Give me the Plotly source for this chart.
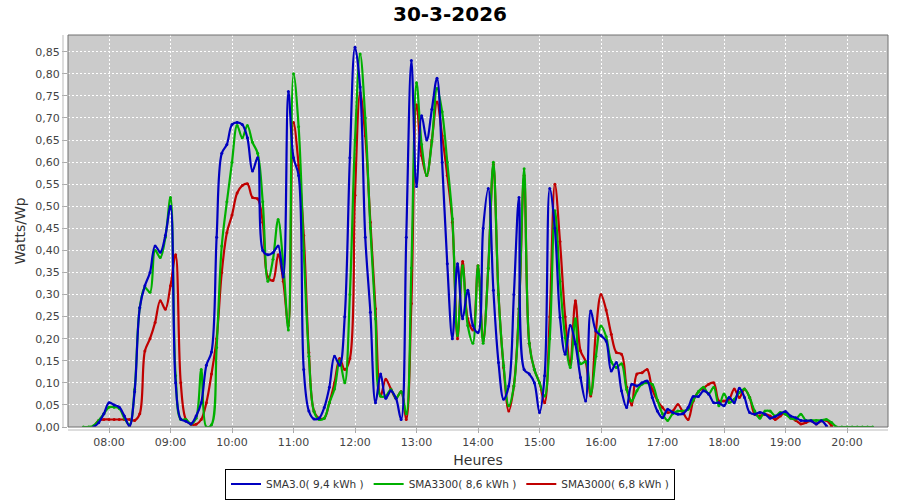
import pandas as pd
import plotly.graph_objects as go

# ---- data (5-minute samples, 07:35 -> 20:25) ----
start_time = "2026-03-30 07:35"
end_time = "2026-03-30 20:25"
times = pd.date_range(start_time, end_time, freq="5min")

series_names = ["SMA3.0( 9,4 kWh )", "SMA3300( 8,6 kWh )", "SMA3000( 6,8 kWh )"]

sma30 = [
    None, None, 0.0, 0.01, 0.03,
    0.055, 0.05, 0.045, 0.025, 0.002, 0.08, 0.27, 0.32, 0.35, 0.41, 0.396, 0.434,
    0.50, 0.10, 0.018, 0.013, 0.007, 0.025, 0.055, 0.14, 0.17, 0.43, 0.62, 0.64,
    0.685, 0.69, 0.685, 0.655, 0.58, 0.61, 0.40, 0.39, 0.395, 0.41, 0.34, 0.76,
    0.61, 0.57, 0.13, 0.036, 0.018, 0.02, 0.044, 0.09, 0.16, 0.14, 0.25, 0.61,
    0.86, 0.77, 0.43, 0.26, 0.055, 0.12, 0.065, 0.082, 0.065, 0.017, 0.43, 0.83,
    0.545, 0.705, 0.65, 0.72, 0.79, 0.60, 0.37, 0.20, 0.37, 0.245, 0.31, 0.23,
    0.214, 0.45, 0.54, 0.31, 0.146, 0.063, 0.093, 0.30, 0.52, 0.13, 0.12, 0.10,
    0.033, 0.116, 0.54, 0.45, 0.248, 0.165, 0.23, 0.188, 0.112, 0.059, 0.263, 0.218,
    0.207, 0.195, 0.127, 0.146, 0.082, 0.044, 0.097, 0.093, 0.10, 0.104, 0.067, 0.036,
    0.021, 0.04, 0.033, 0.029, 0.03, 0.044, 0.069, 0.069, 0.082, 0.075, 0.055, 0.055,
    0.048, 0.067, 0.055, 0.088, 0.067, 0.033, 0.029, 0.033, 0.029, 0.02, 0.024, 0.03,
    0.035, 0.025, 0.021, 0.015, 0.014, 0.014, 0.007, 0.014, 0.002, None, None, None,
    None, None, None, None, None, None,
]

sma3300 = [
    0.0, 0.0, 0.003, 0.015, 0.03,
    0.045, 0.045, 0.042, 0.02, 0.005, 0.085, 0.27, 0.316, 0.305, 0.40, 0.384, 0.43,
    0.52, 0.116, 0.017, 0.017, 0.007, 0.02, 0.13, 0.0, 0.005, 0.18, 0.41, 0.51,
    0.60, 0.683, 0.655, 0.683, 0.645, 0.62, 0.51, 0.33, 0.38, 0.47, 0.37, 0.22,
    0.80, 0.68, 0.40, 0.16, 0.035, 0.017, 0.02, 0.055, 0.086, 0.15, 0.10, 0.30,
    0.65, 0.845, 0.70, 0.45, 0.245, 0.07, 0.07, 0.085, 0.065, 0.08, 0.03, 0.36,
    0.78, 0.64, 0.57, 0.646, 0.767, 0.714, 0.60, 0.472, 0.207, 0.365, 0.23, 0.19,
    0.365, 0.19, 0.36, 0.60, 0.30, 0.139, 0.048, 0.093, 0.268, 0.585, 0.19, 0.13,
    0.10, 0.07, 0.20, 0.49, 0.33, 0.203, 0.135, 0.245, 0.143, 0.148, 0.075, 0.16,
    0.229, 0.205, 0.148, 0.135, 0.143, 0.085, 0.059, 0.082, 0.097, 0.10, 0.097, 0.061,
    0.03, 0.015, 0.03, 0.036, 0.036, 0.04, 0.061, 0.08, 0.09, 0.075, 0.09, 0.048,
    0.075, 0.055, 0.063, 0.078, 0.086, 0.067, 0.036, 0.02, 0.036, 0.036, 0.025, 0.033,
    0.029, 0.02, 0.018, 0.029, 0.015, 0.015, 0.015, 0.015, 0.017, 0.01, 0.0, 0.0,
    0.0, 0.0, 0.0, 0.0, 0.0, 0.0,
]

sma3000 = [
    None, None, 0.0, 0.015, 0.017,
    0.017, 0.017, 0.017, 0.017, 0.017, 0.015, 0.03, 0.172, 0.20, 0.237, 0.286, 0.267,
    0.32, 0.39, 0.10, 0.017, 0.006, 0.006, 0.017, 0.055, 0.12, 0.20, 0.35, 0.44,
    0.48, 0.53, 0.547, 0.551, 0.52, 0.517, 0.464, 0.34, 0.332, 0.39, 0.33, 0.23,
    0.69, 0.593, 0.434, 0.169, 0.036, 0.02, 0.02, 0.055, 0.10, 0.155, 0.13, 0.155,
    0.525, 0.757, 0.66, 0.464, 0.268, 0.07, 0.108, 0.086, 0.065, 0.08, 0.017, 0.28,
    0.73, 0.615, 0.57, 0.65, 0.736, 0.66, 0.57, 0.464, 0.20, 0.375, 0.245, 0.22,
    0.365, 0.195, 0.359, 0.595, 0.30, 0.135, 0.036, 0.093, 0.268, 0.57, 0.19, 0.13,
    0.10, 0.055, 0.25, 0.55, 0.42, 0.25, 0.142, 0.286, 0.173, 0.148, 0.07, 0.216,
    0.30, 0.265, 0.21, 0.169, 0.165, 0.09, 0.05, 0.12, 0.123, 0.13, 0.085, 0.06,
    0.044, 0.033, 0.036, 0.051, 0.033, 0.017, 0.059, 0.08, 0.088, 0.097, 0.10, 0.059,
    0.059, 0.063, 0.086, 0.067, 0.086, 0.067, 0.029, 0.025, 0.029, 0.025, 0.017, 0.025,
    0.033, 0.021, 0.015, 0.007, 0.01, 0.014, 0.007, 0.014, 0.015, 0.002, None, None,
    None, None, None, None, None, None,
]

colors = ["#0000c0", "#00b000", "#c00000"]
FONT = "DejaVu Sans"

fig = go.Figure()
# draw order: red, green, blue (blue on top); markers drawn as separate legend-less traces
for name, vals, col in [
    (series_names[2], sma3000, colors[2]),
    (series_names[1], sma3300, colors[1]),
    (series_names[0], sma30, colors[0]),
]:
    fig.add_trace(go.Scatter(
        x=times, y=vals, name=name, mode="lines", legendgroup=name,
        line=dict(color=col, width=2.2, shape="spline", smoothing=1.0),
    ))
    fig.add_trace(go.Scatter(
        x=times, y=vals, name=name, mode="markers", legendgroup=name, showlegend=False,
        marker=dict(size=3, color=col),
    ))

fig.update_layout(
    width=900, height=500,
    margin=dict(l=68, r=12, t=35, b=73, autoexpand=False),
    paper_bgcolor="white",
    plot_bgcolor="#cbcbcb",
    separators=", ",
    font=dict(family=FONT, size=11, color="#444444"),
    title=dict(text="<b>30-3-2026</b>", x=0.5, xref="container", xanchor="center",
               y=1 - 14 / 500, yref="container", yanchor="middle",
               font=dict(family=FONT, size=20, color="black")),
    showlegend=True,
    legend=dict(orientation="h", traceorder="reversed",
                x=(450 - 68) / 820, xanchor="center",
                y=(427 - 499.5) / 392, yanchor="bottom",
                bordercolor="black", borderwidth=1, bgcolor="white",
                font=dict(family=FONT, size=10.5, color="#333333"),
                itemwidth=30, tracegroupgap=0),
)

fig.update_xaxes(
    type="date", automargin=False,
    range=["2026-03-30 07:20", "2026-03-30 20:40"],
    tick0="2026-03-30 08:00", dtick=3600000, tickformat="%H:%M",
    showgrid=True, gridcolor="white", griddash="2px,2px", gridwidth=1,
    zeroline=False, showline=False,
    ticks="outside", ticklen=5, tickcolor="#aaaaaa",
    tickfont=dict(family=FONT, size=11, color="#444444"),
    title=dict(text="Heures", font=dict(family=FONT, size=14, color="#333333"), standoff=6),
)
fig.update_yaxes(
    automargin=False,
    range=[0, 0.888], tick0=0, dtick=0.05, tickformat=".2f",
    showgrid=True, gridcolor="white", griddash="2px,2px", gridwidth=1,
    zeroline=False, showline=False,
    ticks="outside", ticklen=5, tickcolor="#aaaaaa",
    tickfont=dict(family=FONT, size=11, color="#444444"),
    title=dict(text="Watts/Wp", font=dict(family=FONT, size=14, color="#333333"), standoff=6),
)

# plot border and offset axis lines
fig.add_shape(type="rect", xref="paper", yref="paper", x0=0, x1=1, y0=0, y1=1,
              line=dict(color="#707070", width=1), layer="above")
fig.add_shape(type="line", xref="paper", yref="paper", x0=-5 / 820, x1=-5 / 820, y0=0, y1=1,
              line=dict(color="#bbbbbb", width=1))
fig.add_shape(type="line", xref="paper", yref="paper", x0=0, x1=1, y0=-3 / 392, y1=-3 / 392,
              line=dict(color="#bbbbbb", width=1))

fig.write_html("out.html", config={"displayModeBar": False},
               post_script="document.body.style.margin='0px';")
